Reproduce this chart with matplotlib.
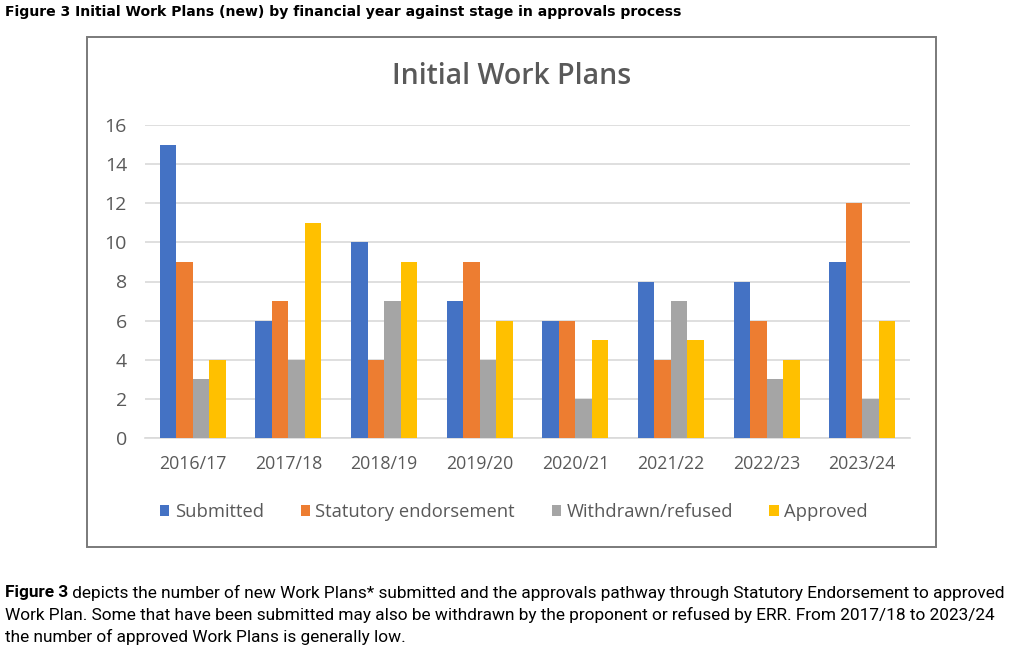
import matplotlib
matplotlib.use("Agg")
import matplotlib.pyplot as plt
from matplotlib.patches import Rectangle
import numpy as np

categories = ["2016/17", "2017/18", "2018/19", "2019/20", "2020/21", "2021/22", "2022/23", "2023/24"]
submitted = [15, 6, 10, 7, 6, 8, 8, 9]
statutory = [9, 7, 4, 9, 6, 4, 6, 12]
withdrawn = [3, 4, 7, 4, 2, 7, 3, 2]
approved = [4, 11, 9, 6, 5, 5, 4, 6]
series_names = ["Submitted", "Statutory endorsement", "Withdrawn/refused", "Approved"]
colors = ["#4472C4", "#ED7D31", "#A5A5A5", "#FFC000"]
yticks = [0, 2, 4, 6, 8, 10, 12, 14, 16]

fig_title = "Figure 3 Initial Work Plans (new) by financial year against stage in approvals process"
chart_title = "Initial Work Plans"
caption_bold = "Figure 3"
caption_lines = [
    " depicts the number of new Work Plans* submitted and the approvals pathway through Statutory Endorsement to approved",
    "Work Plan. Some that have been submitted may also be withdrawn by the proponent or refused by ERR. From 2017/18 to 2023/24",
    "the number of approved Work Plans is generally low.",
]

W, H = 1024, 657
fig = plt.figure(figsize=(W / 100, H / 100), dpi=100)
fig.patch.set_facecolor("white")

chart_font = "Open Sans"
grey = "#595959"

# chart frame
fig.patches.append(Rectangle((87 / W, 1 - 547 / H), (936 - 87) / W, 510 / H,
                             transform=fig.transFigure, fill=False,
                             edgecolor="#7a7a7a", linewidth=1.4, zorder=0))

ax = fig.add_axes([145 / W, 1 - 438 / H, (910 - 145) / W, (438 - 125) / H])
x = np.arange(len(categories))
bw = 0.1725
data = [submitted, statutory, withdrawn, approved]
for k, (vals, c, name) in enumerate(zip(data, colors, series_names)):
    ax.bar(x + (k - 1.5) * bw, vals, width=bw, color=c, label=name, zorder=3)

ax.set_xlim(-0.5, len(categories) - 0.5)
ax.set_ylim(0, 16)
ax.set_yticks(yticks)
ax.set_xticks(x)
ax.set_xticklabels(categories)
ax.grid(axis="y", color="#d9d9d9", linewidth=1.2, zorder=0)
for s in ["top", "right", "left"]:
    ax.spines[s].set_visible(False)
ax.spines["bottom"].set_color("#d9d9d9")
ax.spines["bottom"].set_linewidth(1.2)
ax.tick_params(axis="both", length=0, colors=grey)
ax.tick_params(axis="y", pad=13, labelsize=14)
ax.tick_params(axis="x", pad=12, labelsize=12.8)
for lab in ax.get_xticklabels() + ax.get_yticklabels():
    lab.set_fontfamily(chart_font)
    lab.set_color(grey)

leg = fig.legend(loc="center", bbox_to_anchor=(514 / W, 1 - 512 / H), ncol=4,
                 frameon=False, prop={"family": chart_font, "size": 13.2},
                 handlelength=0.5, handleheight=0.5, handletextpad=0.3,
                 columnspacing=2.0)
for t in leg.get_texts():
    t.set_color(grey)

fig.text(512 / W, 1 - 77 / H, chart_title, ha="center", va="center",
         fontsize=20.5, color=grey, fontfamily=chart_font, fontweight="semibold")

fig.text(5 / W, 1 - 12 / H, fig_title, ha="left", va="center", fontsize=10.05,
         fontweight="bold", fontfamily="DejaVu Sans", color="black")

cap_font = "Roboto"
cap_size = 12.4
ys = [593, 615, 637]
t0 = fig.text(5 / W, 1 - ys[0] / H, caption_bold, ha="left", va="center",
              fontsize=cap_size, fontweight="bold", fontfamily=cap_font, color="black")
fig.canvas.draw()
bb = t0.get_window_extent()
fig.text(bb.x1 / W, 1 - ys[0] / H, caption_lines[0], ha="left", va="center",
         fontsize=cap_size, fontfamily=cap_font, color="black")
for line, yy in zip(caption_lines[1:], ys[1:]):
    fig.text(5 / W, 1 - yy / H, line, ha="left", va="center",
             fontsize=cap_size, fontfamily=cap_font, color="black")

fig.savefig("out.png", dpi=100, facecolor="white")
